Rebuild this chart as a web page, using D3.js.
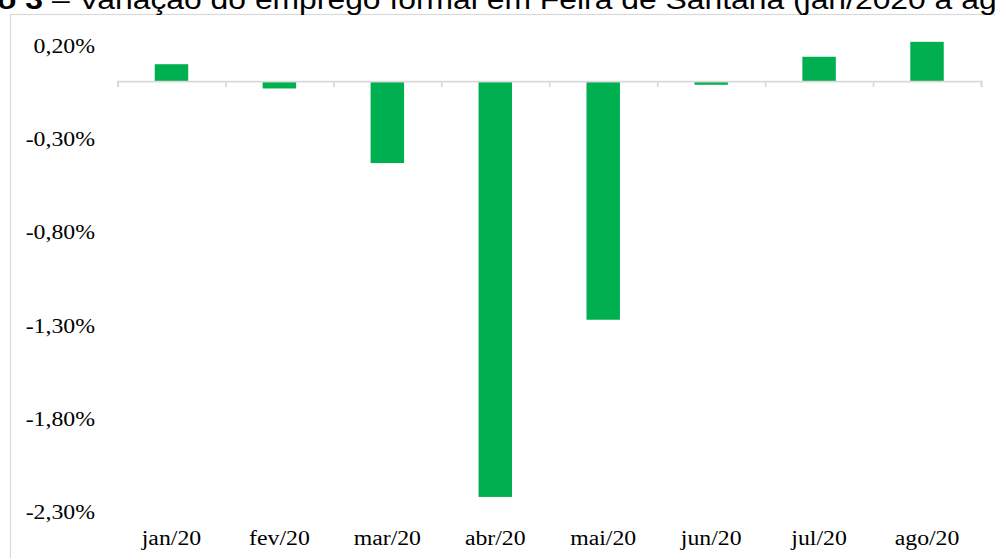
<!DOCTYPE html>
<html>
<head>
<meta charset="utf-8">
<script src="https://cdn.jsdelivr.net/npm/d3@7"></script>
<style>
  html, body { margin: 0; padding: 0; background: #ffffff; }
  svg { display: block; }
</style>
</head>
<body>
<div id="chart"></div>
<script>
// ---- data ----
const categories = ["jan/20", "fev/20", "mar/20", "abr/20", "mai/20", "jun/20", "jul/20", "ago/20"];
const values = [0.0009, -0.0004, -0.0044, -0.0223, -0.0128, -0.0002, 0.0013, 0.0021];
const yTickValues = [0.002, -0.003, -0.008, -0.013, -0.018, -0.023];
const titleBold = "Gráfico 3";
const titleRest = " – Variação do emprego formal em Feira de Santana (jan/2020 a ago/2020)";

// ---- layout ----
const W = 995, H = 558;
const plotLeft = 117.5, plotRight = 981;
const plotTop = 43.7, plotBottom = 510;
const sx = 1.16;       // horizontal stretch of axis text in reference
const sxTitle = 1.18;  // horizontal stretch of title text

const svg = d3.select("#chart").append("svg")
  .attr("width", W).attr("height", H);

svg.append("rect").attr("width", W).attr("height", H).attr("fill", "#fff");

// outer frame (cut off at right & bottom)
svg.append("rect")
  .attr("x", 10.5).attr("y", 14.5)
  .attr("width", 1100).attr("height", 700)
  .attr("fill", "none").attr("stroke", "#d9d9d9").attr("stroke-width", 1.2);

// title (partially cut off at the top, as in the reference)
const title = svg.append("text")
  .attr("transform", `translate(-95,9) scale(${sxTitle},1)`)
  .attr("font-family", "'Liberation Sans', Arial, sans-serif")
  .attr("font-size", 27)
  .attr("fill", "#000");
title.append("tspan").attr("font-weight", "bold").text(titleBold);
title.append("tspan").text(titleRest);

// scales
const x = d3.scaleBand().domain(categories)
  .range([plotLeft, plotRight])
  .paddingInner(0.69).paddingOuter(0.345);
const y = d3.scaleLinear().domain([-0.023, 0.002]).range([plotBottom, plotTop]);

const locale = d3.formatLocale({ decimal: ",", thousands: ".", grouping: [3], currency: ["R$", ""], minus: "-" });
const fmt = locale.format(".2%");

// bars
svg.append("g").selectAll("rect").data(values).join("rect")
  .attr("x", (d, i) => x(categories[i]))
  .attr("width", x.bandwidth())
  .attr("y", d => y(Math.max(0, d)))
  .attr("height", d => Math.abs(y(d) - y(0)))
  .attr("fill", "#00b050");

// category axis line with boundary tick marks at y = 0
const bnd = d3.scaleLinear().domain([0, categories.length]).range([plotLeft, plotRight]);
const gZero = svg.append("g").attr("transform", `translate(0,${y(0)})`)
  .call(d3.axisBottom(bnd).ticks(categories.length).tickSizeInner(6).tickSizeOuter(6).tickFormat(""));
gZero.selectAll("path, line").attr("stroke", "#d9d9d9").attr("stroke-width", 1.75);
gZero.selectAll("text").remove();

// y axis labels
const gY = svg.append("g").attr("transform", `translate(${plotLeft},0)`)
  .call(d3.axisLeft(y).tickValues(yTickValues).tickSize(0).tickPadding(0).tickFormat(fmt));
gY.select(".domain").remove();
gY.selectAll("text")
  .attr("x", -22.5 / sx)
  .attr("dy", "0.42em")
  .attr("transform", `scale(${sx},1)`)
  .attr("font-family", "'Liberation Serif', 'Times New Roman', serif")
  .attr("font-size", 20.5)
  .attr("fill", "#000");

// x axis labels
const gX = svg.append("g").attr("transform", `translate(0,545)`)
  .call(d3.axisBottom(x).tickSize(0).tickPadding(0));
gX.select(".domain").remove();
gX.selectAll("text")
  .attr("y", 0).attr("dy", 0)
  .attr("transform", `scale(${sx},1)`)
  .attr("font-family", "'Liberation Serif', 'Times New Roman', serif")
  .attr("font-size", 20.5)
  .attr("fill", "#000");
</script>
</body>
</html>
